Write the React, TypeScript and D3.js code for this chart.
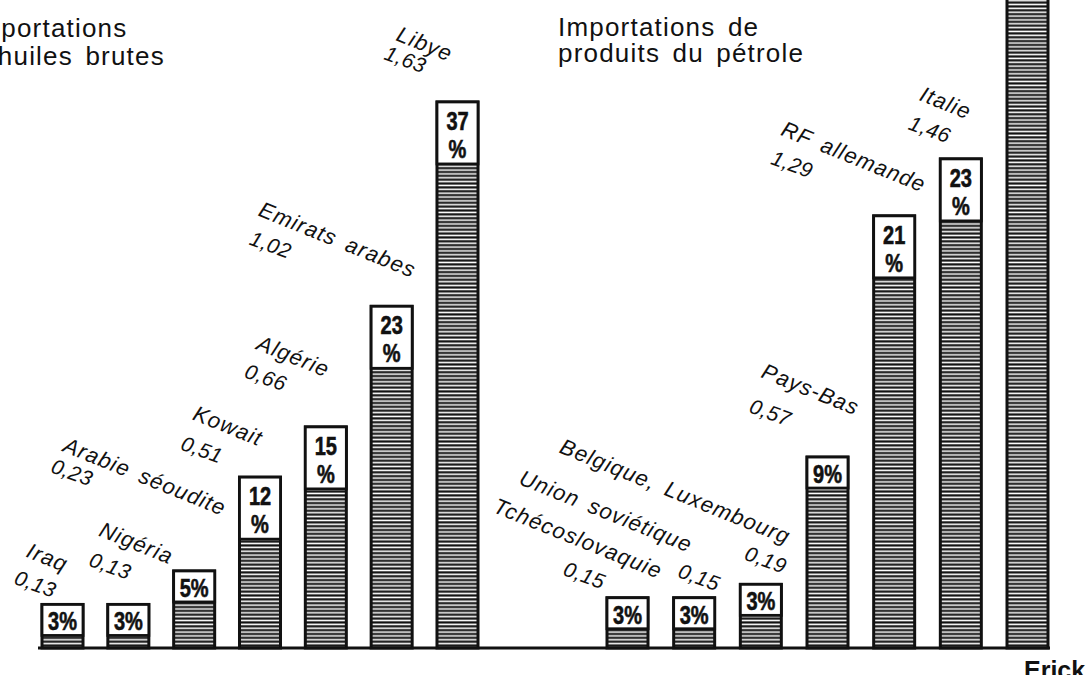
import React from "react";
import * as d3 from "d3";

// ---- data ----
const crudeCountries = ["Iraq", "Nigéria", "Arabie séoudite", "Kowait", "Algérie", "Emirats arabes", "Libye"];
const crudeValues = [0.13, 0.13, 0.23, 0.51, 0.66, 1.02, 1.63];
const crudeShares = [3, 3, 5, 12, 15, 23, 37];

const productCountries = ["Tchécoslovaquie", "Union soviétique", "Belgique, Luxembourg", "Pays-Bas", "RF allemande", "Italie", ""];
// last bar runs off the top of the picture; its value is an estimate
const productValues = [0.15, 0.15, 0.19, 0.57, 1.29, 1.46, 2.0];
const productShares: (number | null)[] = [3, 3, 3, 9, 21, 23, null];

const titleCrude = ["Importations", "d'huiles brutes"];
const titleProducts = ["Importations de", "produits du pétrole"];
const signature = "Erick";

// ---- layout (label offsets relative to bar top-left) ----
const crudeLabelLayout = [
  { n: [-17, -48], v: [-29, -21] },
  { n: [-10, -69], v: [-20, -39] },
  { n: [-112, -120], v: [-124, -99] },
  { n: [-48, -58], v: [-60, -28] },
  { n: [-50, -78], v: [-62, -50] },
  { n: [-114, -91], v: [-123, -62] },
  { n: [-42, -62], v: [-54, -43] },
];
const productLabelLayout = [
  { n: [-115, -86], v: [-45, -23] },
  { n: [-156, -114], v: [3, -21] },
  { n: [-182, -132], v: [3, -25] },
  { n: [-47, -80], v: [-59, -45] },
  { n: [-94, -81], v: [-104, -52] },
  { n: [-22, -59], v: [-33, -30] },
  { n: [0, 0], v: [0, 0] },
];

const W = 1089;
const H = 675;
const BASE = 648;
const INK = "#111";

const y = d3.scaleLinear().domain([0, 1]).range([BASE, BASE - 335]);
const xCrude = d3.scaleBand<string>().domain(crudeCountries).range([42, 478]).paddingInner(0.377).paddingOuter(0);
const xProd = d3.scaleBand<string>().domain(productCountries.map((c, i) => c || "_" + i)).range([607, 1048]).paddingInner(0.385).paddingOuter(0);

const fmt = (v: number) => d3.format(".2f")(v).replace(".", ",");

const labelFont = "'Liberation Sans', Arial, Helvetica, sans-serif";
const pctFont = "'Liberation Sans', Arial, sans-serif";

function PctText({ cx, yb, txt }: { cx: number; yb: number; txt: string }) {
  return (
    <text
      transform={`translate(${cx},${yb}) scale(0.8,1)`}
      fontFamily={pctFont}
      fontWeight="bold"
      fontSize={25}
      fill={INK}
      stroke={INK}
      strokeWidth={0.6}
      textAnchor="middle"
    >
      {txt}
    </text>
  );
}

function Bar({ x, w, v, share }: { x: number; w: number; v: number; share: number | null }) {
  const top = y(v);
  const h = BASE - top;
  const twoLine = share !== null && share >= 10;
  const boxH = share === null ? 0 : twoLine ? 62 : 31;
  const cx = x + w / 2;
  return (
    <g>
      <rect x={x} y={top} width={w} height={h} fill="url(#hatch)" stroke={INK} strokeWidth={3} />
      {share !== null && (
        <g>
          <rect x={x} y={top} width={w} height={boxH} fill="#fff" stroke={INK} strokeWidth={2.8} />
          {twoLine ? (
            <g>
              <PctText cx={cx} yb={top + 28} txt={String(share)} />
              <PctText cx={cx} yb={top + 56} txt="%" />
            </g>
          ) : (
            <PctText cx={cx} yb={top + 26} txt={share + "%"} />
          )}
        </g>
      )}
    </g>
  );
}

function Labels({ x, v, name, lay }: { x: number; v: number; name: string; lay: { n: number[]; v: number[] } }) {
  if (!name) return null;
  const top = y(v);
  return (
    <g fill={INK} fontFamily={labelFont} fontStyle="italic">
      <text
        transform={`translate(${x + lay.n[0]},${top + lay.n[1]}) rotate(22)`}
        fontSize={22}
        letterSpacing={1.1}
        wordSpacing={4}
      >
        {name}
      </text>
      <text transform={`translate(${x + lay.v[0]},${top + lay.v[1]}) rotate(20)`} fontSize={21} letterSpacing={0.4}>
        {fmt(v)}
      </text>
    </g>
  );
}

export default function App() {
  return (
    <svg width={W} height={H} style={{ position: "absolute", left: 0, top: 0, background: "#fff" }}>
      <defs>
        <pattern id="hatch" patternUnits="userSpaceOnUse" width={10} height={3.85} y={BASE}>
          <rect width={10} height={3.85} fill="#fff" />
          <rect width={10} height={2.2} y={0.3} fill={INK} />
        </pattern>
      </defs>
      <rect width={W} height={H} fill="#fff" />

      {/* titles */}
      <g fill={INK} fontFamily={labelFont} fontSize={26} letterSpacing={1.2} wordSpacing={4}>
        <text x={-30} y={37}>{titleCrude[0]}</text>
        <text x={-24} y={65}>{titleCrude[1]}</text>
        <text x={558} y={36}>{titleProducts[0]}</text>
        <text x={558} y={62}>{titleProducts[1]}</text>
      </g>

      {crudeCountries.map((c, i) => (
        <Bar key={"c" + i} x={xCrude(c)!} w={xCrude.bandwidth()} v={crudeValues[i]} share={crudeShares[i]} />
      ))}
      {productCountries.map((c, i) => (
        <Bar key={"p" + i} x={xProd(c || "_" + i)!} w={xProd.bandwidth()} v={productValues[i]} share={productShares[i]} />
      ))}

      <line x1={38} x2={1050} y1={BASE} y2={BASE} stroke={INK} strokeWidth={3} />

      {crudeCountries.map((c, i) => (
        <Labels key={"lc" + i} x={xCrude(c)!} v={crudeValues[i]} name={c} lay={crudeLabelLayout[i]} />
      ))}
      {productCountries.map((c, i) => (
        <Labels key={"lp" + i} x={xProd(c || "_" + i)!} v={productValues[i]} name={c} lay={productLabelLayout[i]} />
      ))}

      <text x={1024} y={679} fontFamily={labelFont} fontWeight="bold" fontSize={25} fill={INK}>
        {signature}
      </text>
    </svg>
  );
}
